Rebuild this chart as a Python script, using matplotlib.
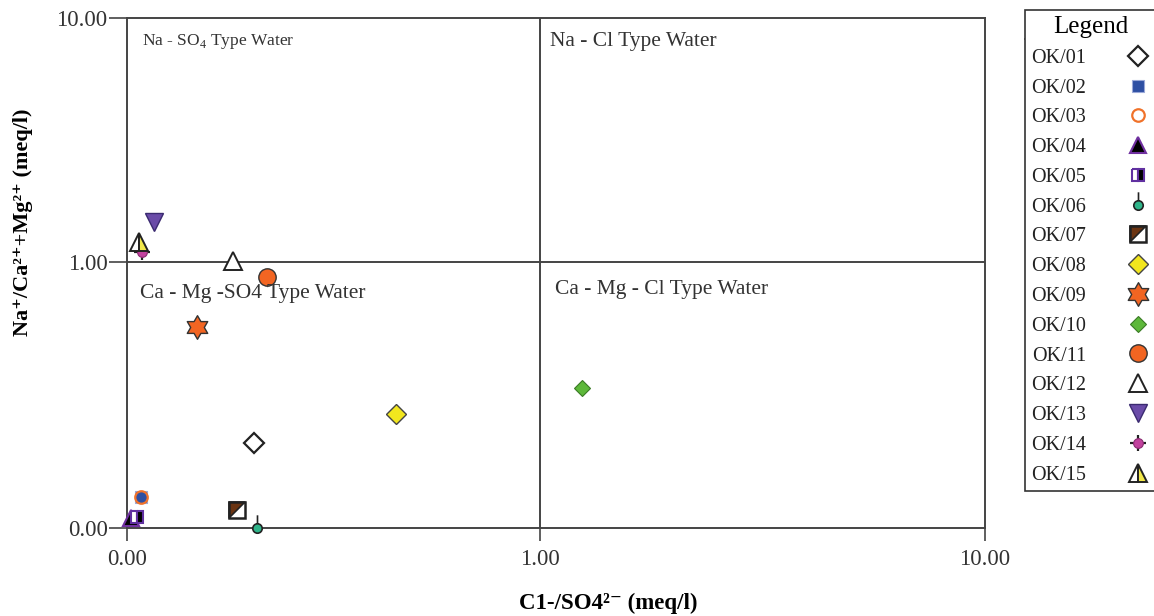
import numpy as np
import matplotlib; matplotlib.use('Agg')
import matplotlib.pyplot as plt
from matplotlib.path import Path
from matplotlib.lines import Line2D
from matplotlib.legend_handler import HandlerTuple

plt.rcParams['font.family'] = ['Liberation Serif', 'DejaVu Serif']
plt.rcParams['mathtext.fontset'] = 'custom'
plt.rcParams['mathtext.rm'] = 'Liberation Serif'

# samples
labels = ["OK/01", "OK/02", "OK/03", "OK/04", "OK/05", "OK/06", "OK/07", "OK/08",
          "OK/09", "OK/10", "OK/11", "OK/12", "OK/13", "OK/14", "OK/15"]
cl_so4 = [0.203, 0.108, 0.108, 0.102, 0.106, 0.207, 0.185, 0.448,
          0.148, 1.243, 0.218, 0.181, 0.116, 0.109, 0.107]
na_camg = [0.209, 0.131, 0.131, 0.109, 0.110, 0.100, 0.117, 0.268,
           0.570, 0.336, 0.878, 1.009, 1.459, 1.099, 1.208]

xticks = [0.1, 1, 10]
yticks = [0.1, 1, 10]
ticklabels = ["0.00", "1.00", "10.00"]

# the original axis is log-like but the two decades are not the same length
def fx(v):
    l = np.log10(np.clip(v, 1e-9, None))
    return np.where(l < 0, l * 413, l * 445)
def ix(u):
    u = np.asarray(u, float)
    return np.where(u < 0, 10 ** (u / 413), 10 ** (u / 445))
def fy(v):
    l = np.log10(np.clip(v, 1e-9, None))
    return np.where(l < 0, l * 266, l * 244)
def iy(u):
    u = np.asarray(u, float)
    return np.where(u < 0, 10 ** (u / 266), 10 ** (u / 244))

# custom marker shapes
pin = Path.make_compound_path(Path.circle((0, 0), 1),
                              Path([(0, 1), (0, 2.8)], [Path.MOVETO, Path.LINETO]))
tri_ul = Path([(-1, -1), (-1, 1), (1, 1), (-1, -1)],
              [Path.MOVETO, Path.LINETO, Path.LINETO, Path.CLOSEPOLY])
star6 = Path.unit_regular_star(6, 0.577)

styles = {
    "OK/01": [dict(marker='D', ms=10, mfc='white', mec='#222', mew=1.6)],
    "OK/02": [dict(marker='s', ms=9, mfc='#2E4FA3', mec='#9aa8d8', mew=0.8)],
    "OK/03": [dict(marker='o', ms=9, mfc='none', mec='#F0722A', mew=1.6)],
    "OK/04": [dict(marker='^', ms=11, mfc='black', mec='#7030A0', mew=1.5)],
    "OK/05": [dict(marker='s', ms=9, fillstyle='left', mfc='white', mfcalt='black',
                   mec='#6030A0', mew=1.5)],
    "OK/06": [dict(marker=pin, ms=19, mfc='#2FB58A', mec='#222', mew=1.2)],
    "OK/07": [dict(marker='s', ms=12, mfc='white', mec='#222', mew=0),
              dict(marker=tri_ul, ms=12, mfc='#6B3412', mec='#222', mew=1.2),
              dict(marker='s', ms=12, mfc='none', mec='#222', mew=1.8)],
    "OK/08": [dict(marker='D', ms=10, mfc='#F2E61E', mec='#444', mew=1.0)],
    "OK/09": [dict(marker=star6, ms=17, mfc='#F26522', mec='#333', mew=1.0)],
    "OK/10": [dict(marker='D', ms=8.5, mfc='#5DB83A', mec='#3a7a25', mew=0.8)],
    "OK/11": [dict(marker='o', ms=12.5, mfc='#F26522', mec='#333', mew=1.0)],
    "OK/12": [dict(marker='^', ms=13, mfc='white', mec='#222', mew=1.4)],
    "OK/13": [dict(marker='v', ms=13, mfc='#6A4BA8', mec='#3a2a70', mew=1.0)],
    "OK/14": [dict(marker='+', ms=12, mec='#222', mew=1.6),
              dict(marker='o', ms=7, mfc='#C2429E', mec='#8a2a70', mew=0.8)],
    "OK/15": [dict(marker='^', ms=12.5, fillstyle='left', mfc='white', mfcalt='#F2E84A',
                   mec='#222', mew=1.4)],
}

fig = plt.figure(figsize=(11.54, 6.16), dpi=100)
ax = fig.add_axes([127 / 1154, 1 - 528 / 616, (985 - 127) / 1154, (528 - 18) / 616])
ax.set_xscale('function', functions=(fx, ix))
ax.set_yscale('function', functions=(fy, iy))
ax.set_xlim(0.1, 10); ax.set_ylim(0.1, 10)

ax.axvline(1, color='#444', lw=1.4, zorder=1)
ax.axhline(1, color='#444', lw=1.4, zorder=1)

handles = []
for lab, x, y in zip(labels, cl_so4, na_camg):
    hs = []
    for st in styles[lab]:
        h, = ax.plot([x], [y], linestyle='none', zorder=3, clip_on=False, **st)
        hs.append(h)
    handles.append(tuple(hs) if len(hs) > 1 else hs[0])

ax.set_xticks(xticks); ax.set_xticklabels(ticklabels)
ax.set_yticks(yticks); ax.set_yticklabels(ticklabels)
ax.minorticks_off()
ax.tick_params(axis='y', length=13, width=1.2, color='#444', pad=1, labelsize=16.5, labelcolor='#333')
ax.tick_params(axis='x', length=9, width=1.2, color='#444', pad=6, labelsize=16.5, labelcolor='#333')
for s in ax.spines.values():
    s.set_color('#444'); s.set_linewidth(1.4)

ax.set_xlabel('C1-/SO4²⁻ (meq/l)', fontsize=16.5, fontweight='bold')
ax.set_ylabel('Na⁺/Ca²⁺+Mg²⁺ (meq/l)', fontsize=16, fontweight='bold')
ax.xaxis.set_label_coords(0.561, -0.127)
ax.yaxis.set_label_coords(-0.109, 0.60)

tc = '#333'
ax.text(0.017, 0.953, r'Na - SO$_4$ Type Water', transform=ax.transAxes, fontsize=12.5, color=tc, va='center')
ax.text(0.493, 0.953, 'Na - Cl Type Water', transform=ax.transAxes, fontsize=15.5, color=tc, va='center')
ax.text(0.015, 0.459, 'Ca - Mg -SO4 Type Water', transform=ax.transAxes, fontsize=15.5, color=tc, va='center')
ax.text(0.499, 0.467, 'Ca - Mg - Cl Type Water', transform=ax.transAxes, fontsize=15.5, color=tc, va='center')

leg = fig.legend(handles, labels, loc='upper left', bbox_to_anchor=(1025 / 1154, 1 - 10 / 616),
                 borderaxespad=0, markerfirst=False, title='Legend', fancybox=False,
                 edgecolor='#333', framealpha=1, fontsize=14.5, title_fontsize=18,
                 labelspacing=0.53, handletextpad=2.0, handlelength=1.2, borderpad=0.3,
                 handler_map={tuple: HandlerTuple(ndivide=1)})
leg.get_frame().set_linewidth(1.2)
for t in leg.get_texts():
    t.set_color('#222')

# line under the legend title
fig.canvas.draw()
r = fig.canvas.get_renderer()
tb = leg.get_title().get_window_extent(r)
fb = leg.get_frame().get_window_extent(r)
inv = fig.transFigure.inverted()
(x0, yl), (x1, _) = inv.transform([(fb.x0, tb.y0 - 1), (fb.x1, tb.y0 - 1)])
fig.add_artist(Line2D([x0, x1], [yl, yl], transform=fig.transFigure, color='#333', lw=1.2))

fig.savefig('out.png', dpi=100)
